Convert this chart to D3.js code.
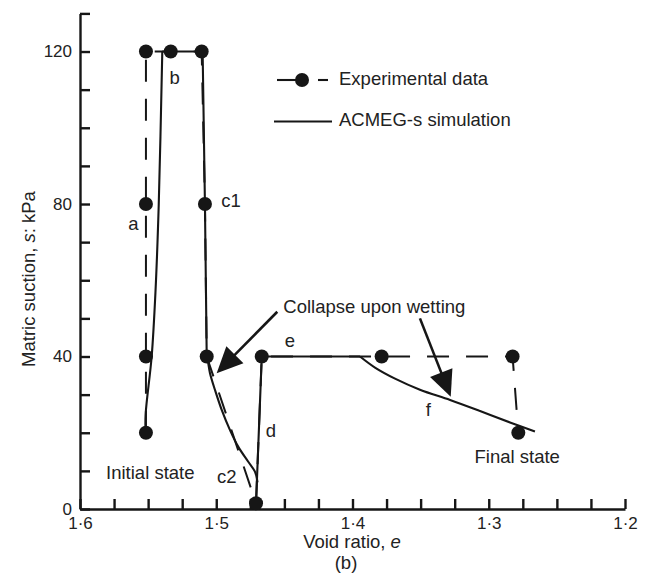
<!DOCTYPE html>
<html>
<head>
<meta charset="utf-8">
<script src="https://cdn.jsdelivr.net/npm/d3@7"></script>
<style>
  html, body { margin: 0; padding: 0; background: #fff; }
  svg { display: block; font-family: "Liberation Sans", Arial, sans-serif; }
</style>
</head>
<body>
<svg id="chart" width="652" height="574"></svg>
<script>
// Measured wetting/drying path: void ratio e and matric suction s (kPa)
const expVoid    = [1.5516, 1.5516, 1.5516, 1.5516, 1.5334, 1.5107, 1.5083, 1.5070, 1.4708, 1.4666, 1.3786, 1.2825, 1.2783];
const expSuction = [20, 40, 80, 120, 120, 120, 80, 40, 1.5, 40, 40, 40, 20];

// ACMEG-s simulated path, piece by piece: [e, s]
const simRise     = [[1.5519, 20], [1.5518, 25], [1.5474, 40], [1.5446, 57], [1.5422, 80], [1.5396, 120]];
const simDrying   = [[1.5396, 120], [1.5100, 120], [1.5083, 80], [1.5070, 40]];
const simCollapse = [[1.5070, 40], [1.5063, 39.1], [1.5046, 35.6], [1.5009, 31.2], [1.4960, 26], [1.4899, 20.7],
                     [1.4838, 16.3], [1.4765, 12.4], [1.4716, 9.8], [1.4697, 7]];
const simRewet    = [[1.4708, 1.5], [1.4666, 40], [1.3945, 40]];
const simFinal    = [[1.3945, 40], [1.3835, 37.1], [1.3688, 34.2], [1.3505, 31.3], [1.3284, 28.6],
                     [1.3064, 25.7], [1.2844, 22.7], [1.2661, 20.3]];

// Axis ticks and labels
const xTicks  = d3.range(0, 17).map(i => +(1.6 - i * 0.025).toFixed(3));
const xLabels = [1.6, 1.5, 1.4, 1.3, 1.2];
const yTicks  = d3.range(0, 131, 10);
const yLabels = [0, 40, 80, 120];

// Path stage labels: [text, e, s]
const stageLabels = [["a", 1.5609, 74.9], ["b", 1.5306, 113.3], ["c1", 1.4892, 81.0], ["c2", 1.4923, 8.5],
                     ["d", 1.4598, 20.5], ["e", 1.4459, 44.3], ["f", 1.3444, 26.0],
                     ["Initial state", 1.5484, 9.5], ["Final state", 1.2791, 13.7]];

// Annotation arrows: [from e, from s, tip e, tip s]
const arrows = [[1.4552, 51.75, 1.4997, 35.6], [1.3505, 50.0, 1.3279, 29.45]];

const ink = "#161616";
const textInk = "#222";

const svg = d3.select("#chart");
const x = d3.scaleLinear().domain([1.6, 1.2]).range([80, 625]);
const y = d3.scaleLinear().domain([0, 130]).range([509, 13.4]);

// Axes with inward ticks
const fmtX = d => xLabels.some(v => Math.abs(v - d) < 1e-6) ? d.toFixed(1).replace(".", "\u00B7") : "";
const fmtY = d => yLabels.includes(d) ? String(d) : "";

const gx = svg.append("g")
  .attr("transform", `translate(0,${y(0)})`)
  .call(d3.axisBottom(x).tickValues(xTicks).tickSizeInner(-10).tickSizeOuter(0).tickPadding(8).tickFormat(fmtX));
const gy = svg.append("g")
  .attr("transform", `translate(${x(1.6)},0)`)
  .call(d3.axisLeft(y).tickValues(yTicks).tickSizeInner(-10).tickSizeOuter(0).tickPadding(8).tickFormat(fmtY));

[gx, gy].forEach(g => {
  g.attr("font-family", null).attr("font-size", null);
  g.selectAll("path, line").attr("stroke", ink).attr("stroke-width", 2.4);
  g.selectAll("text").attr("fill", textInk).style("font-size", "17px");
});

// Axis titles
const xTitle = svg.append("text").attr("x", 352).attr("y", 548).attr("text-anchor", "middle")
  .attr("fill", textInk).style("font-size", "18.5px");
xTitle.append("tspan").text("Void ratio, ");
xTitle.append("tspan").attr("font-style", "italic").text("e");
svg.append("text").attr("x", 346).attr("y", 569).attr("text-anchor", "middle")
  .attr("fill", textInk).style("font-size", "18.5px").text("(b)");

const yTitle = svg.append("text").attr("transform", "translate(35,279) rotate(-90)")
  .attr("text-anchor", "middle").attr("fill", textInk).style("font-size", "18.5px");
yTitle.append("tspan").text("Matric suction, ");
yTitle.append("tspan").attr("font-style", "italic").text("s");
yTitle.append("tspan").text(": kPa");

// Measured path (dashed)
const expPts = expVoid.map((e, i) => [e, expSuction[i]]);
const straight = d3.line().x(d => x(d[0])).y(d => y(d[1]));
const smooth = d3.line().x(d => x(d[0])).y(d => y(d[1])).curve(d3.curveCatmullRom.alpha(0.5));

svg.append("path").attr("d", straight(expPts))
  .attr("fill", "none").attr("stroke", ink).attr("stroke-width", 2)
  .attr("stroke-dasharray", "22,17");

// Simulated path (solid)
const simGroup = svg.append("g").attr("fill", "none").attr("stroke", ink)
  .attr("stroke-width", 2.1).attr("stroke-linejoin", "round");
simGroup.append("path").attr("d", smooth(simRise));
simGroup.append("path").attr("d", straight(simDrying));
simGroup.append("path").attr("d", smooth(simCollapse));
simGroup.append("path").attr("d", straight(simRewet));
simGroup.append("path").attr("d", smooth(simFinal));

// Measured points
svg.append("g").selectAll("circle").data(expPts).join("circle")
  .attr("cx", d => x(d[0])).attr("cy", d => y(d[1])).attr("r", 7).attr("fill", ink);

// Arrows with filled triangular heads
const headLen = 26, headHalf = 12;
arrows.forEach(([e0, s0, e1, s1]) => {
  const x0 = x(e0), y0 = y(s0), x1 = x(e1), y1 = y(s1);
  const len = Math.hypot(x1 - x0, y1 - y0);
  const ux = (x1 - x0) / len, uy = (y1 - y0) / len;
  const bx = x1 - ux * headLen, by = y1 - uy * headLen;
  svg.append("line").attr("x1", x0).attr("y1", y0).attr("x2", bx + ux * 2).attr("y2", by + uy * 2)
    .attr("stroke", ink).attr("stroke-width", 2.6);
  svg.append("path")
    .attr("d", `M${x1},${y1}L${bx - uy * headHalf},${by + ux * headHalf}L${bx + uy * headHalf},${by - ux * headHalf}Z`)
    .attr("fill", ink);
});

svg.append("text").attr("x", x(1.4508)).attr("y", y(51.5)).attr("fill", textInk)
  .style("font-size", "18.5px").text("Collapse upon wetting");

// Stage labels
svg.append("g").selectAll("text").data(stageLabels).join("text")
  .attr("x", d => x(d[1])).attr("y", d => y(d[2])).attr("dy", "0.35em")
  .attr("text-anchor", "middle").attr("fill", textInk).style("font-size", "18.5px")
  .text(d => d[0]);

// Legend
const lg = svg.append("g");
lg.append("line").attr("x1", 277).attr("x2", 302).attr("y1", 80).attr("y2", 80)
  .attr("stroke", ink).attr("stroke-width", 2.1);
lg.append("line").attr("x1", 318).attr("x2", 328).attr("y1", 80).attr("y2", 80)
  .attr("stroke", ink).attr("stroke-width", 2.1);
lg.append("circle").attr("cx", 302).attr("cy", 80).attr("r", 7).attr("fill", ink);
lg.append("text").attr("x", 339).attr("y", 85).attr("fill", textInk)
  .style("font-size", "18.5px").text("Experimental data");
lg.append("line").attr("x1", 274).attr("x2", 332).attr("y1", 121.5).attr("y2", 121.5)
  .attr("stroke", ink).attr("stroke-width", 2.1);
lg.append("text").attr("x", 339).attr("y", 126).attr("fill", textInk)
  .style("font-size", "18.5px").text("ACMEG-s simulation");
</script>
</body>
</html>
